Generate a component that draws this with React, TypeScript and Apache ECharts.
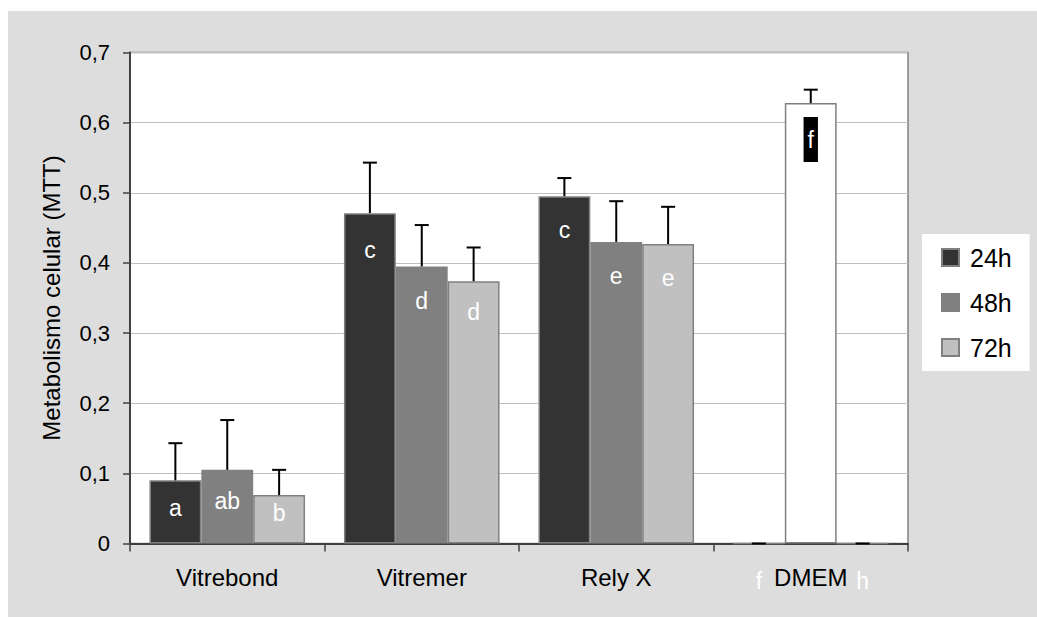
import React, { useEffect, useRef } from 'react';
import * as echarts from 'echarts';

const categories = ['Vitrebond', 'Vitremer', 'Rely X', 'DMEM'];
const seriesNames = ['24h', '48h', '72h'];
const means24 = [0.09, 0.471, 0.495, 0];
const means48 = [0.105, 0.395, 0.43, 0.628];
const means72 = [0.069, 0.374, 0.427, 0];
const upper24 = [0.143, 0.543, 0.521, 0];
const upper48 = [0.176, 0.454, 0.488, 0.647];
const upper72 = [0.105, 0.422, 0.48, 0];
const letters24 = ['a', 'c', 'c', 'f'];
const letters48 = ['ab', 'd', 'e', 'f'];
const letters72 = ['b', 'd', 'e', 'h'];

const FONT = "'Liberation Sans', Arial, sans-serif";
const fills = ['#333333', '#808080', '#c0c0c0'];
const labelDist = [
  [16.5, 25, 22, 27],
  [20, 23.5, 23, 14],
  [6, 19, 23, 27],
];

function App() {
  const ref = useRef<HTMLDivElement>(null);
  useEffect(() => {
    if (!ref.current) return;
    const chart = echarts.init(ref.current, null, { renderer: 'svg' });
    const means = [means24, means48, means72];
    const uppers = [upper24, upper48, upper72];
    const letters = [letters24, letters48, letters72];

    const barSeries = seriesNames.map((name, s) => ({
      type: 'bar',
      name,
      barGap: '0%',
      barCategoryGap: '20%',
      itemStyle: { color: fills[s], borderColor: '#808080', borderWidth: 1.5 },
      data: means[s].map((v, i) => {
        const isDmem = categories[i] === 'DMEM';
        const item: any = { value: v };
        if (isDmem && s === 1) {
          item.itemStyle = { color: '#ffffff', borderColor: '#808080', borderWidth: 1.5 };
          item.label = {
            show: true,
            position: 'insideTop',
            distance: labelDist[s][i],
            formatter: letters[s][i],
            color: '#ffffff',
            backgroundColor: '#000000',
            padding: [11, 4, 11, 4],
            lineHeight: 23,
            fontSize: 23,
            fontFamily: FONT,
          };
        } else {
          item.label = {
            show: true,
            position: 'insideTop',
            distance: labelDist[s][i],
            formatter: letters[s][i],
            color: '#ffffff',
            fontSize: 23,
            fontFamily: FONT,
          };
        }
        return item;
      }),
    }));

    const errSeries = seriesNames.map((name, s) => ({
      type: 'custom',
      name: 'err' + name,
      z: 5,
      data: means[s].map((v, i) => [i, v, uppers[s][i]]),
      encode: { x: 0, y: 2 },
      renderItem: (params: any, api: any) => {
        const cat = api.value(0);
        const m = api.value(1);
        const u = api.value(2);
        const base = api.coord([cat, m]);
        const top = api.coord([cat, u]);
        const band = api.size([1, 0])[0];
        const bw = (band * 0.8) / 3;
        const x = base[0] - band * 0.4 + bw * (s + 0.5);
        const capHalf = 7;
        const children: any[] = [];
        if (Math.abs(top[1] - base[1]) > 0.5) {
          children.push({
            type: 'line',
            shape: { x1: x, y1: base[1], x2: x, y2: top[1] },
            style: { stroke: '#000', lineWidth: 2 },
          });
        }
        children.push({
          type: 'line',
          shape: { x1: x - capHalf, y1: top[1], x2: x + capHalf, y2: top[1] },
          style: { stroke: '#000', lineWidth: 2 },
        });
        return { type: 'group', children };
      },
    }));

    chart.setOption({
      animation: false,
      textStyle: { fontFamily: FONT },
      legend: {
        data: seriesNames,
        orient: 'vertical',
        left: 914,
        top: 223,
        backgroundColor: '#ffffff',
        padding: [11, 18, 11, 19],
        itemGap: 20,
        itemWidth: 17,
        itemHeight: 17,
        icon: 'rect',
        textStyle: { fontSize: 25, color: '#000', fontFamily: FONT, padding: [0, 0, 0, 6] },
      },
      grid: {
        left: 122,
        top: 41.5,
        width: 778,
        height: 491,
        show: true,
        backgroundColor: '#ffffff',
        borderColor: '#808080',
        borderWidth: 1.5,
        containLabel: false,
      },
      xAxis: {
        type: 'category',
        data: categories,
        axisLine: { lineStyle: { color: '#404040', width: 2 } },
        axisTick: { show: true, length: 8, lineStyle: { color: '#404040', width: 1.5 } },
        axisLabel: { fontSize: 24, color: '#000', margin: 22, fontFamily: FONT },
      },
      yAxis: {
        type: 'value',
        min: 0,
        max: 0.7,
        interval: 0.1,
        name: 'Metabolismo celular (MTT)',
        nameLocation: 'middle',
        nameGap: 67,
        nameTextStyle: { fontSize: 24, color: '#000', fontFamily: FONT },
        axisLine: { show: true, lineStyle: { color: '#404040', width: 2 } },
        axisTick: { show: true, length: 7, lineStyle: { color: '#404040', width: 1.5 } },
        axisLabel: {
          fontSize: 22,
          color: '#000',
          margin: 20,
          fontFamily: FONT,
          formatter: (v: number) => (v === 0 ? '0' : v.toFixed(1).replace('.', ',')),
        },
        splitLine: { show: true, lineStyle: { color: '#c0c0c0', width: 1 } },
      },
      series: [...barSeries, ...errSeries],
    });
    return () => chart.dispose();
  }, []);
  return (
    <div
      ref={ref}
      style={{
        position: 'absolute',
        left: 8,
        top: 11,
        width: 1029,
        height: 606,
        background: '#dddddd',
      }}
    />
  );
}

export default App;
